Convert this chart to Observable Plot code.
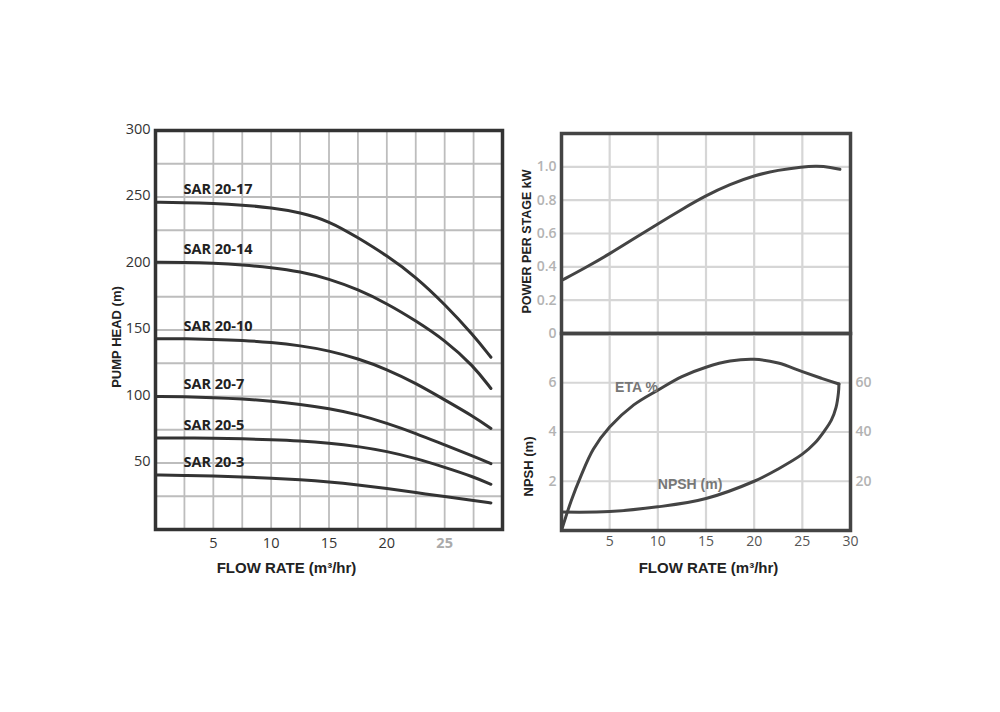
<!DOCTYPE html>
<html><head><meta charset="utf-8">
<script src="https://cdn.jsdelivr.net/npm/d3@7"></script>
<script src="https://cdn.jsdelivr.net/npm/@observablehq/plot@0.6"></script>
<style>
html,body{margin:0;padding:0;background:#fff;}
#chart{position:relative;width:1000px;height:712px;overflow:hidden;background:#fff;}
#chart svg{position:absolute;left:0;top:0;}
</style></head><body><div id="chart"></div>
<script>
// ---- Left chart: pump head vs flow ----
const flowHead = [0, 2.5, 5, 7.5, 10, 12.5, 15, 17.5, 20, 22.5, 25, 27.5, 29];
const headSeries = ["SAR 20-17", "SAR 20-14", "SAR 20-10", "SAR 20-7", "SAR 20-5", "SAR 20-3"];
const head17 = [246, 245.8, 245.2, 244, 242, 238.5, 232, 219.5, 206, 190, 169.5, 146, 129.5];
const head14 = [201, 200.8, 200.2, 199, 197, 194, 188.5, 180.5, 170, 157, 142.5, 123, 106];
const head10 = [143.5, 143.4, 143, 142.2, 140.7, 138.3, 134.5, 128.5, 120.5, 110, 97.5, 85, 76];
const head7  = [100, 99.8, 99.2, 98.2, 96.6, 94.2, 91, 86.5, 80, 72.3, 63.5, 55, 49.5];
const head5  = [68.8, 68.8, 68.6, 68.2, 67.6, 66.7, 65.1, 62.5, 58.8, 53.5, 46.8, 39.6, 34];
const head3  = [41, 40.7, 40.2, 39.5, 38.6, 37.5, 35.9, 33.6, 30.8, 27.8, 24.7, 21.8, 20];
const headTicks = [50, 100, 150, 200, 250, 300];
const flowTicksLeft = [5, 10, 15, 20];
const flowTickFaded = [25];

// ---- Right chart: power per stage, efficiency, NPSH ----
const flowPower = [0, 2.5, 5, 7.5, 10, 12.5, 15, 17.5, 20, 22.5, 25, 26.5, 28, 28.9];
const power = [0.318, 0.395, 0.478, 0.568, 0.658, 0.745, 0.828, 0.895, 0.948, 0.981, 1.0, 1.005, 0.997, 0.985];
const flowEta = [0, 1, 2, 3.3, 5, 7.5, 10, 12.5, 15, 17.5, 20, 22.5, 25, 27, 28.8];
const eta = [0, 12, 22, 33, 42, 51, 57, 62.5, 66.3, 68.8, 69.5, 68, 64.5, 61.8, 59.5];
const flowNpsh = [0, 5, 10, 15, 20, 22.5, 25, 26.3, 27.3, 28, 28.5, 28.75, 28.8];
const npsh = [0.75, 0.77, 0.96, 1.3, 2.0, 2.5, 3.1, 3.55, 4.05, 4.47, 5.0, 5.6, 5.95];
const powerTicks = [0, 0.2, 0.4, 0.6, 0.8, 1.0];
const npshTicks = [2, 4, 6];
const etaTicks = [20, 40, 60];
const flowTicksRight = [5, 10, 15, 20, 25, 30];
const etaLabel = {t: "ETA %", flow: 10, v: 5.8};
const npshLabel = {t: "NPSH (m)", flow: 10, v: 1.87};

// ---- build tables ----
const headValues = [head17, head14, head10, head7, head5, head3];
const headRows = headSeries.flatMap((s, k) => flowHead.map((f, i) => ({series: s, flow: f, head: headValues[k][i]})));
const headLabelRows = headSeries.map((s, k) => ({series: s, flow: 2.5, head: headValues[k][0]}));
const powerRows = flowPower.map((f, i) => ({flow: f, power: power[i]}));
const etaRows = flowEta.map((f, i) => ({flow: f, v: eta[i] / 10}));
const npshRows = flowNpsh.map((f, i) => ({flow: f, v: npsh[i]}));

const W = 1000, H = 712;
const base = {
  width: W, height: H,
  style: {background: "transparent", fontFamily: "'Open Sans', sans-serif", overflow: "visible"}
};
const titleFont = "'Liberation Sans', Arial, sans-serif";
const titleStyle = {fontFamily: titleFont, fontWeight: "bold", fill: "#222", textAnchor: "middle", lineAnchor: "middle"};
const leftGrid = {stroke: "#bdbdbd", strokeOpacity: 1, strokeWidth: 1.8};
const rightGrid = {stroke: "#d6d6d6", strokeOpacity: 1, strokeWidth: 2.2};

const left = Plot.plot({
  ...base,
  marginLeft: 155, marginRight: 498, marginTop: 130, marginBottom: 183,
  x: {domain: [0, 30]},
  y: {domain: [0, 300]},
  marks: [
    Plot.gridX(d3.range(2.5, 30, 2.5), leftGrid),
    Plot.gridY(d3.range(25, 300, 25), leftGrid),
    Plot.line(headRows, {x: "flow", y: "head", z: "series", curve: "basis", stroke: "#333", strokeWidth: 3}),
    Plot.text(headLabelRows, {x: "flow", y: "head", text: "series", textAnchor: "start", dx: -1, dy: -12.5,
      fontWeight: "bold", fontSize: 14.5, fill: "#222"}),
    Plot.frame({stroke: "#333", strokeWidth: 3.5}),
    Plot.axisX(flowTicksLeft, {anchor: "bottom", tickSize: 0, tickPadding: 8, fontSize: 14.5, color: "#333", fill: "#333", label: null}),
    Plot.axisX(flowTickFaded, {anchor: "bottom", tickSize: 0, tickPadding: 8, fontSize: 14.5, fontWeight: "bold", color: "#aaa", fill: "#aaa", label: null}),
    Plot.axisY(headTicks, {anchor: "left", tickSize: 0, tickPadding: 5, fontSize: 14.5, color: "#333", fill: "#333", label: null, dy: -1.5}),
    Plot.text(["PUMP HEAD (m)"], {...titleStyle, frameAnchor: "left", rotate: -90, dx: -39, dy: 7, fontSize: 13}),
    Plot.text(["FLOW RATE (m³/hr)"], {...titleStyle, frameAnchor: "bottom", dx: -42.5, dy: 39, fontSize: 15})
  ]
});

const topRight = Plot.plot({
  ...base,
  marginLeft: 561, marginRight: 150, marginTop: 133, marginBottom: 379,
  x: {domain: [0, 30], axis: null},
  y: {domain: [0, 1.2]},
  marks: [
    Plot.gridX(d3.range(5, 30, 5), rightGrid),
    Plot.gridY(powerTicks.filter(d => d > 0), rightGrid),
    Plot.line(powerRows, {x: "flow", y: "power", curve: "basis", stroke: "#444", strokeWidth: 3}),
    Plot.frame({stroke: "#444", strokeWidth: 3.5}),
    Plot.axisY(powerTicks, {anchor: "left", tickSize: 0, tickPadding: 5, fontSize: 14, fontWeight: 600,
      color: "#b3b3b3", fill: "#b3b3b3", label: null, tickFormat: d => d === 0 ? "0" : d.toFixed(1)}),
    Plot.text(["POWER PER STAGE kW"], {...titleStyle, frameAnchor: "left", rotate: -90, dx: -35, dy: 8, fontSize: 12.5})
  ]
});

const bottomRight = Plot.plot({
  ...base,
  marginLeft: 561, marginRight: 150, marginTop: 333, marginBottom: 182,
  x: {domain: [0, 30]},
  y: {domain: [0, 8]},
  marks: [
    Plot.gridX(d3.range(5, 30, 5), rightGrid),
    Plot.gridY(npshTicks, rightGrid),
    Plot.line(etaRows, {x: "flow", y: "v", curve: "catmull-rom", stroke: "#444", strokeWidth: 3}),
    Plot.line(npshRows, {x: "flow", y: "v", curve: "catmull-rom", stroke: "#444", strokeWidth: 3}),
    Plot.text([etaLabel], {x: "flow", y: "v", text: "t", textAnchor: "end", fontFamily: titleFont,
      fontWeight: "bold", fontSize: 14, fill: "#777"}),
    Plot.text([npshLabel], {x: "flow", y: "v", text: "t", textAnchor: "start", fontFamily: titleFont,
      fontWeight: "bold", fontSize: 14, fill: "#777"}),
    Plot.frame({stroke: "#444", strokeWidth: 3.5}),
    Plot.axisX(flowTicksRight, {anchor: "bottom", tickSize: 0, tickPadding: 6, fontSize: 14,
      color: "#555", fill: "#555", label: null}),
    Plot.axisY(npshTicks, {anchor: "left", tickSize: 0, tickPadding: 5, fontSize: 14, fontWeight: 600,
      color: "#b3b3b3", fill: "#b3b3b3", label: null}),
    Plot.axisY(etaTicks.map(d => d / 10), {anchor: "right", tickSize: 0, tickPadding: 5, fontSize: 14, fontWeight: 600,
      color: "#b3b3b3", fill: "#b3b3b3", label: null, tickFormat: d => String(Math.round(d * 10))}),
    Plot.text(["NPSH (m)"], {...titleStyle, frameAnchor: "left", rotate: -90, dx: -33, dy: 34.5, fontSize: 13}),
    Plot.text(["FLOW RATE (m³/hr)"], {...titleStyle, frameAnchor: "bottom", dx: 2.5, dy: 38, fontSize: 15})
  ]
});

const chart = document.getElementById("chart");
chart.append(left, topRight, bottomRight);
</script>
</body></html>
